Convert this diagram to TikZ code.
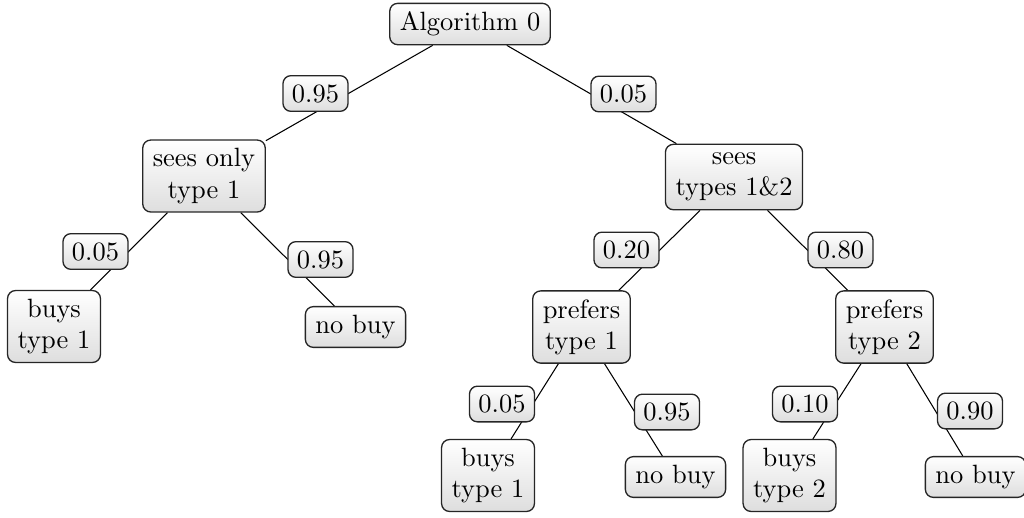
\documentclass[tikz,border=0pt]{standalone}
\usetikzlibrary{backgrounds}
\tikzset{
  box/.style={draw=black!85, line width=0.5pt, rounded corners=3pt,
    top color=white, bottom color=black!13, align=center,
    inner xsep=3.8pt, inner ysep=3.2pt,
    font=\fontsize{10}{11.8}\selectfont},
  lab/.style={box, inner xsep=3.4pt, inner ysep=3.3pt},
  conn/.style={draw=black, line width=0.4pt}
}
\begin{document}
\begin{tikzpicture}[x=0.378pt, y=-0.378pt]
\useasboundingbox (0,0) rectangle (1024,517);
% tree nodes
\node[box] (alg) at (470,24) {Algorithm 0};
\node[box] (s1) at (204,176) {sees only\\type 1};
\node[box] (s12) at (734,177) {sees\\types 1\&2};
\node[box] (b1L) at (54,326.5) {buys\\type 1};
\node[box] (nb1) at (355.5,327) {no buy};
\node[box] (p1) at (581.5,327) {prefers\\type 1};
\node[box] (p2) at (884.5,327) {prefers\\type 2};
\node[box] (b1R) at (488,475.5) {buys\\type 1};
\node[box] (nb2) at (675.5,477) {no buy};
\node[box] (b2) at (789.5,475.5) {buys\\type 2};
\node[box] (nb3) at (975.5,477) {no buy};
% edge labels
\node[lab] (l1) at (315.5,93.5) {0.95};
\node[lab] (l2) at (623.5,94) {0.05};
\node[lab] (l3) at (95.5,251.5) {0.05};
\node[lab] (l4) at (320.5,259.5) {0.95};
\node[lab] (l5) at (626.5,250) {0.20};
\node[lab] (l6) at (840.5,250) {0.80};
\node[lab] (l7) at (502,404) {0.05};
\node[lab] (l8) at (667,412) {0.95};
\node[lab] (l9) at (805,404) {0.10};
\node[lab] (l10) at (970,411) {0.90};
% connectors
\begin{scope}[on background layer]
\draw[conn] (alg) -- (s1);
\draw[conn] (alg) -- (s12);
\draw[conn] (s1) -- (b1L);
\draw[conn] (s1) -- (nb1);
\draw[conn] (s12) -- (p1);
\draw[conn] (s12) -- (p2);
\draw[conn] (p1) -- (b1R);
\draw[conn] (p1) -- (nb2);
\draw[conn] (p2) -- (b2);
\draw[conn] (p2) -- (nb3);
\end{scope}
\end{tikzpicture}
\end{document}
